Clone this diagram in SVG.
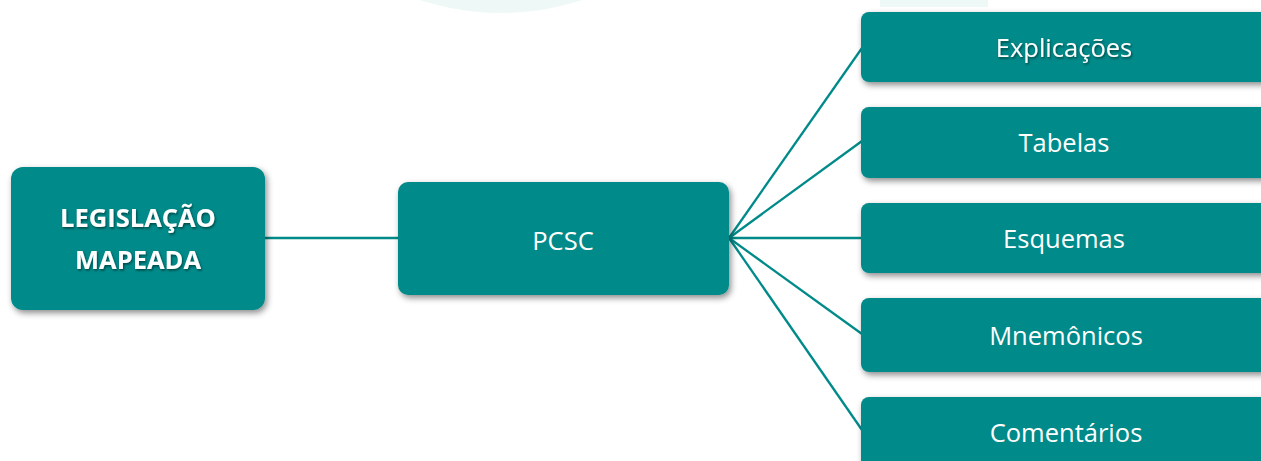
<svg xmlns="http://www.w3.org/2000/svg" width="1261" height="461" viewBox="0 0 1261 461">
<defs>
<filter id="sh" x="-20%" y="-20%" width="140%" height="150%">
<feDropShadow dx="2" dy="3" stdDeviation="3" flood-color="#000" flood-opacity="0.45"/>
</filter>
<filter id="tsh" x="-10%" y="-20%" width="120%" height="150%">
<feDropShadow dx="1" dy="1.5" stdDeviation="1" flood-color="#000" flood-opacity="0.5"/>
</filter>
<style>
.box{fill:#008a89;filter:url(#sh)}
.t{fill:#fff;font-family:"Open Sans","Noto Sans",sans-serif;font-size:25.5px;text-anchor:middle}
.b{font-weight:bold;filter:url(#tsh)}
.s{filter:url(#tsh)}
.c{stroke:#008a89;stroke-width:2.3;fill:none}
</style>
</defs>
<rect width="1261" height="461" fill="#fff"/>
<circle cx="501" cy="-246" r="259" fill="#eef8f7"/>
<rect x="880" y="0" width="108" height="7" fill="#eef8f7"/>
<g id="connectors">
<line class="c" x1="265" y1="238" x2="398" y2="238"/>
<line class="c" x1="729" y1="238" x2="862" y2="48"/>
<line class="c" x1="729" y1="238" x2="862" y2="141"/>
<line class="c" x1="729" y1="238" x2="862" y2="238"/>
<line class="c" x1="729" y1="238" x2="862" y2="334"/>
<line class="c" x1="729" y1="238" x2="862" y2="430"/>
</g>
<g id="legislacao">
<rect class="box" x="11" y="167" width="254" height="143" rx="12"/>
<text class="t b" x="138" y="227">LEGISLAÇÃO</text>
<text class="t b" x="138" y="269">MAPEADA</text>
</g>
<g id="pcsc">
<rect class="box" x="398" y="182" width="331" height="113" rx="10"/>
<text class="t" x="563" y="250">PCSC</text>
</g>
<g id="explicacoes">
<rect class="box" x="861" y="12" width="410" height="70" rx="8"/>
<text class="t s" x="1064" y="57">Explicações</text>
</g>
<g id="tabelas">
<rect class="box" x="861" y="107" width="410" height="71" rx="8"/>
<text class="t" x="1064" y="152">Tabelas</text>
</g>
<g id="esquemas">
<rect class="box" x="861" y="203" width="410" height="70" rx="8"/>
<text class="t" x="1064" y="248">Esquemas</text>
</g>
<g id="mnemonicos">
<rect class="box" x="861" y="298" width="410" height="74" rx="8"/>
<text class="t" x="1066" y="345">Mnemônicos</text>
</g>
<g id="comentarios">
<rect class="box" x="861" y="397" width="410" height="80" rx="8"/>
<text class="t" x="1066" y="442">Comentários</text>
</g>
</svg>
